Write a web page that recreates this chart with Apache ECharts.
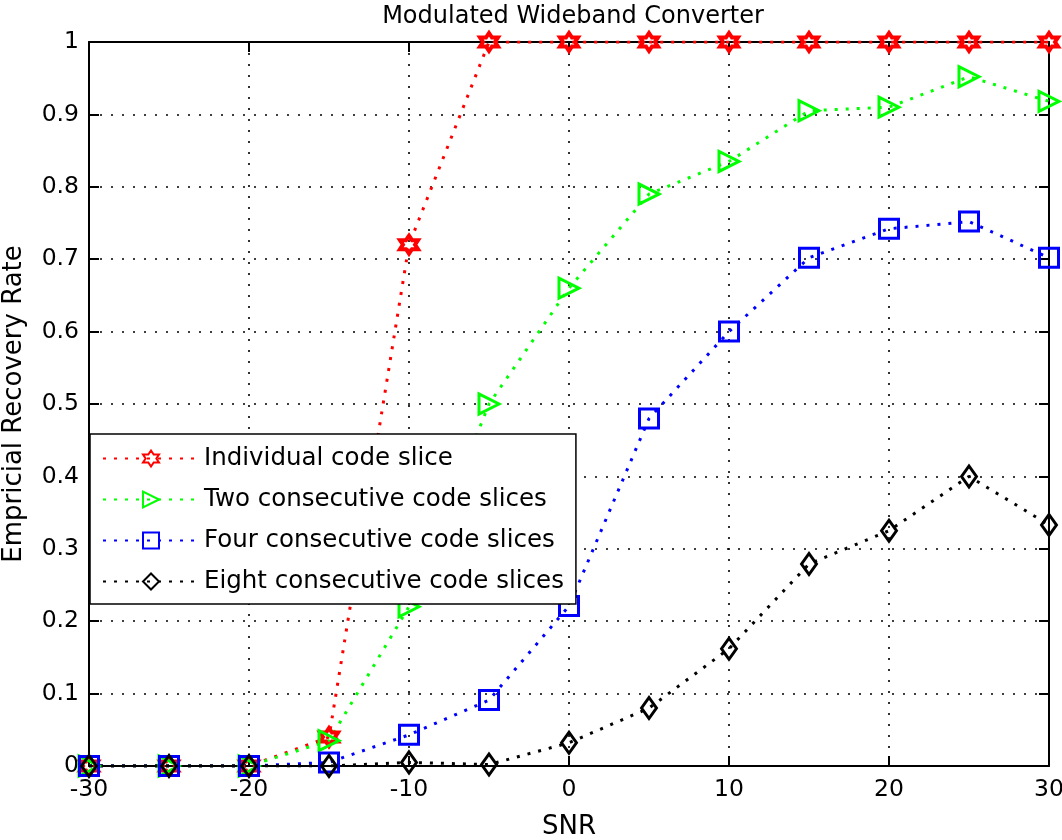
<!DOCTYPE html>
<html><head><meta charset="utf-8">
<script src="https://cdn.jsdelivr.net/npm/echarts@6/dist/echarts.min.js"></script>
<style>html,body{margin:0;padding:0;background:#fff}#c{width:1062px;height:840px}</style>
</head><body><div id="c"></div>
<script>
const snr = [-30,-25,-20,-15,-10,-5,0,5,10,15,20,25,30];
const individual = [0,0,0,0.04,0.72,1,1,1,1,1,1,1,1];
const twoSlices  = [0,0,0,0.035,0.22,0.5,0.66,0.79,0.835,0.905,0.91,0.952,0.918];
const fourSlices = [0,0,0,0.005,0.043,0.091,0.221,0.48,0.6,0.702,0.742,0.752,0.702];
const eightSlices= [0,0,0,0,0.005,0.002,0.032,0.08,0.162,0.279,0.325,0.4,0.333];
const xTicks = [-30,-20,-10,0,10,20,30];
const yTicks = [0,0.1,0.2,0.3,0.4,0.5,0.6,0.7,0.8,0.9,1];
const names = ['Individual code slice','Two consecutive code slices','Four consecutive code slices','Eight consecutive code slices'];

const font = 'DejaVu Sans, Verdana, sans-serif';
const hexagram = 'path://M0,-10 L2.9,-5 L8.66,-5 L5.8,0 L8.66,5 L2.9,5 L0,10 L-2.9,5 L-8.66,5 L-5.8,0 L-8.66,-5 L-2.9,-5 Z';

function mk(name, data, color, symbol, size, rot, bw) {
  return {
    name, type: 'line', data: snr.map((x,i)=>[x,data[i]]),
    symbol, symbolSize: size, symbolRotate: rot || 0, showAllSymbol: true,
    lineStyle: {color, width: 3, type: [3,8]},
    itemStyle: {color: 'rgba(255,255,255,0)', borderColor: color, borderWidth: bw || 3},
    emphasis: {disabled: true}, animation: false, z: 3
  };
}

const chart = echarts.init(document.getElementById('c'), null, {renderer:'canvas'});
const gridLine = {show:true, lineStyle:{color:'#000', type:[2,9], width:1.6}};
chart.setOption({
  animation: false,
  title: {text:'Modulated Wideband Converter', left: 568, top: 0, textAlign:'center',
    textStyle:{fontFamily:font, fontSize:24, fontWeight:'normal', color:'#000'}},
  grid: {left: 89, top: 42, right: 13, bottom: 74, containLabel:false, outerBoundsMode:'none'},
  legend: {
    data: names, orient:'vertical', left: 90, top: 434,
    backgroundColor:'#fff', borderColor:'#000', borderWidth:1.5,
    padding:[12,12,10,12], itemWidth: 96, itemHeight: 20, itemGap: 16,
    textStyle:{fontFamily:font, fontSize:24.5, color:'#000'},
    selectedMode:false
  },
  xAxis: [{
    type:'value', min:-30, max:30, interval:10, position:'bottom',
    axisLine:{show:true, onZero:false, lineStyle:{color:'#000', width:2}},
    axisTick:{show:true, inside:true, length:10, lineStyle:{color:'#000', width:2}},
    axisLabel:{color:'#000', fontFamily:font, fontSize:23.5, margin:12},
    splitLine: gridLine,
    name:'SNR', nameLocation:'middle', nameGap:48,
    nameTextStyle:{color:'#000', fontFamily:font, fontSize:26}
  },{
    type:'value', min:-30, max:30, interval:10, position:'top',
    axisLine:{show:true, onZero:false, lineStyle:{color:'#000', width:2}},
    axisTick:{show:true, inside:true, length:10, lineStyle:{color:'#000', width:2}},
    axisLabel:{show:false}, splitLine:{show:false}
  }],
  yAxis: [{
    type:'value', min:0, max:1, interval:0.1, position:'left',
    axisLine:{show:true, onZero:false, lineStyle:{color:'#000', width:2}},
    axisTick:{show:true, inside:true, length:10, lineStyle:{color:'#000', width:2}},
    axisLabel:{color:'#000', fontFamily:font, fontSize:23.5, margin:10},
    splitLine: gridLine,
    name:'Empricial Recovery Rate', nameLocation:'middle', nameGap:62, nameRotate:90,
    nameTextStyle:{color:'#000', fontFamily:font, fontSize:26}
  },{
    type:'value', min:0, max:1, interval:0.1, position:'right',
    axisLine:{show:true, onZero:false, lineStyle:{color:'#000', width:2}},
    axisTick:{show:true, inside:true, length:10, lineStyle:{color:'#000', width:2}},
    axisLabel:{show:false}, splitLine:{show:false}
  }],
  series: [
    mk(names[0], individual, '#ff0000', hexagram, 18, 0, 4),
    mk(names[1], twoSlices, '#00ff00', 'triangle', 20, -90),
    mk(names[2], fourSlices, '#0000ff', 'rect', 19),
    mk(names[3], eightSlices, '#000000', 'diamond', [15,21])
  ]
});
</script></body></html>
